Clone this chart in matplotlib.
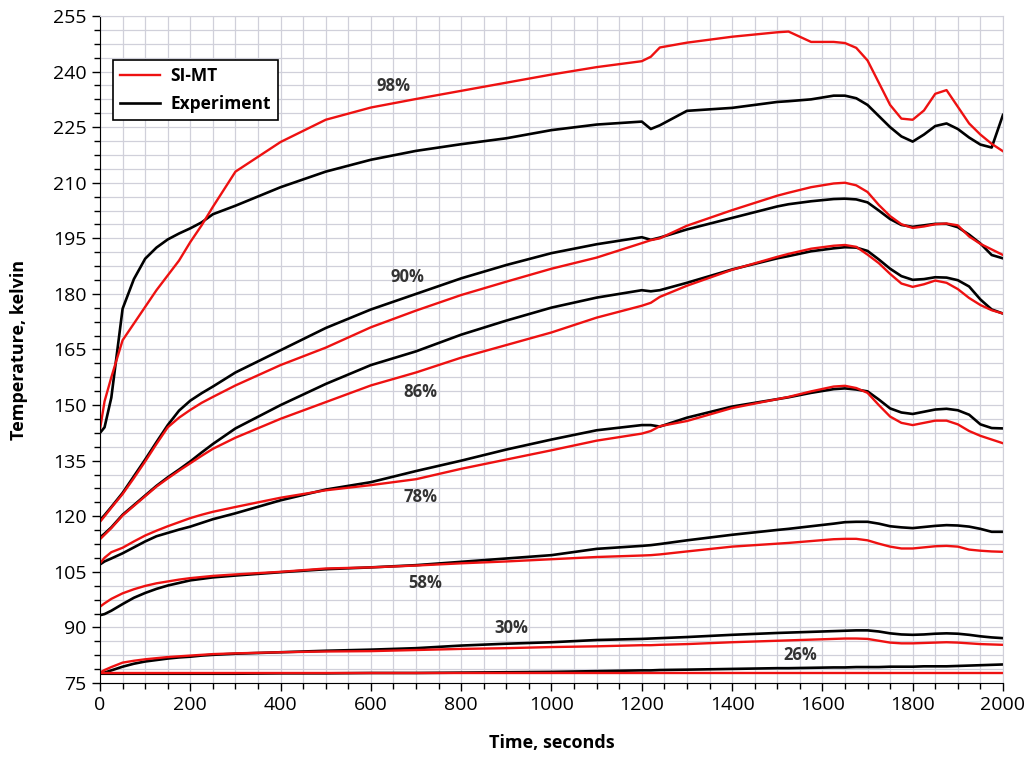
import matplotlib
matplotlib.use("Agg")
import matplotlib.pyplot as plt
from matplotlib.ticker import MultipleLocator

# time grid shared by all curves (seconds)
time_s = [0, 10, 25, 50, 75, 100, 125, 150, 175, 200, 225, 250, 300, 400, 500,
          600, 700, 800, 900, 1000, 1100, 1200, 1220, 1240, 1300, 1400, 1500,
          1525, 1575, 1625, 1650, 1675, 1700, 1725, 1750, 1775, 1800, 1825,
          1850, 1875, 1900, 1925, 1950, 1975, 2000]

# SI-MT model (red)
sim_98 = [143.5, 151, 157.5, 167.5, 172, 176.5, 181, 185, 189, 194, 198.5, 203.5, 213, 221, 227,
          230.3, 232.6, 234.8, 237, 239.2, 241.2, 242.8, 244, 246.5, 247.8, 249.4, 250.6,
          250.8, 248, 248, 247.7, 246.4, 243, 237, 231, 227.3, 227, 229.5,
          234, 235, 230.5, 226, 223, 220.5, 218.5]
sim_90 = [118.5, 120, 122.3, 126, 130.3, 134.8, 139.5, 144, 146.6, 148.7, 150.6, 152.2, 155.3, 160.8, 165.5,
          171, 175.5, 179.7, 183.3, 186.8, 189.8, 193.7, 194.5, 195, 198.4, 202.6, 206.5,
          207.3, 208.8, 209.8, 210, 209.3, 207.5, 204, 201, 198.8, 197.8, 198.2,
          198.8, 199, 198.5, 195.5, 193.5, 192, 190.5]
sim_86 = [113.8, 115, 116.8, 120.2, 122.8, 125.4, 128, 130.2, 132.3, 134.3, 136.3, 138.2, 141.2, 146.3, 150.8,
          155.3, 158.8, 162.8, 166.2, 169.6, 173.6, 176.8, 177.6, 179.2, 182.2, 186.5, 190,
          190.8, 192.2, 193, 193.2, 192.7, 190.6, 188.3, 185.4, 182.8, 181.9, 182.6,
          183.6, 183, 181.3, 178.9, 177, 175.6, 174.7]
sim_78 = [107.3, 108.8, 110.3, 111.5, 113.2, 114.8, 116.1, 117.3, 118.4, 119.5, 120.4, 121.2, 122.5, 125, 127,
          128.4, 130, 132.8, 135.3, 137.8, 140.4, 142.3, 143, 144.3, 145.7, 149.2, 151.6,
          152.2, 153.7, 155, 155.2, 154.6, 153.3, 150, 146.9, 145.2, 144.6, 145.2,
          145.8, 145.8, 144.8, 143, 141.7, 140.7, 139.7]
sim_58 = [95.6, 96.5, 97.7, 99.2, 100.3, 101.2, 101.9, 102.4, 102.9, 103.3, 103.6, 103.9, 104.3, 105, 105.9,
          106.2, 106.7, 107.3, 107.8, 108.4, 109, 109.4, 109.5, 109.7, 110.5, 111.8, 112.6,
          112.8, 113.3, 113.8, 113.9, 113.9, 113.5, 112.6, 111.8, 111.3, 111.3, 111.6,
          111.9, 112, 111.8, 111, 110.7, 110.5, 110.4]
sim_30 = [77.8, 78.5, 79.3, 80.5, 81, 81.4, 81.7, 82, 82.2, 82.4, 82.6, 82.8, 83, 83.3, 83.5,
          83.6, 83.9, 84.2, 84.4, 84.7, 84.9, 85.2, 85.2, 85.3, 85.5, 86, 86.4,
          86.5, 86.7, 86.9, 87, 87, 86.9, 86.4, 85.9, 85.7, 85.7, 85.8,
          85.9, 86, 85.9, 85.7, 85.5, 85.4, 85.3]
sim_26 = [77.6] * len(time_s)

# Experiment (black)
exp_98 = [142.5, 144, 152, 176, 184, 189.5, 192.5, 194.7, 196.3, 197.7, 199.3, 201.5, 203.8, 208.8, 213,
          216.2, 218.6, 220.4, 222, 224.2, 225.7, 226.5, 224.5, 225.5, 229.4, 230.2, 231.8,
          232, 232.5, 233.5, 233.5, 232.8, 231, 228, 225, 222.5, 221.1, 223,
          225.3, 226, 224.5, 222.2, 220.3, 219.5, 228.3]
exp_90 = [119, 120.3, 122.5, 126.3, 130.8, 135.3, 140, 144.6, 148.5, 151.2, 153.2, 155, 158.8, 164.8, 170.8,
          175.8, 180, 184.2, 187.8, 191, 193.4, 195.3, 194.6, 195.2, 197.4, 200.5, 203.6,
          204.2, 205, 205.6, 205.7, 205.5, 204.7, 202.5, 200.2, 198.6, 198.1, 198.5,
          198.9, 198.9, 198, 196, 193.6, 190.5, 189.6]
exp_86 = [114.3, 115.3, 117, 120.4, 123, 125.6, 128.2, 130.5, 132.6, 134.8, 137.2, 139.5, 143.7, 150, 155.7,
          160.8, 164.5, 169, 172.8, 176.3, 179, 181, 180.7, 181, 183, 186.6, 189.6,
          190.2, 191.5, 192.3, 192.6, 192.5, 191.6, 189.3, 186.8, 184.8, 183.8, 184,
          184.5, 184.4, 183.7, 182, 178.5, 175.8, 174.7]
exp_78 = [107, 107.8, 108.6, 110, 111.6, 113.2, 114.6, 115.5, 116.4, 117.2, 118.2, 119.2, 120.8, 124.3, 127.2,
          129.2, 132.2, 135, 138, 140.7, 143.2, 144.6, 144.6, 144.2, 146.6, 149.6, 151.6,
          152.1, 153.3, 154.3, 154.5, 154.2, 153.7, 151.5, 149.1, 148, 147.6, 148.2,
          148.8, 149, 148.6, 147.4, 144.8, 143.8, 143.7]
exp_58 = [93.3, 93.6, 94.5, 96.3, 98, 99.3, 100.4, 101.3, 102, 102.7, 103.1, 103.5, 104, 104.9, 105.7,
          106.2, 106.8, 107.7, 108.6, 109.5, 111.2, 112, 112.2, 112.5, 113.5, 115, 116.3,
          116.6, 117.3, 118, 118.4, 118.5, 118.5, 118, 117.3, 117, 116.8, 117.1,
          117.4, 117.6, 117.5, 117.2, 116.6, 115.8, 115.8]
exp_30 = [77.6, 77.8, 78.4, 79.4, 80.2, 80.8, 81.2, 81.6, 81.9, 82.1, 82.4, 82.6, 82.9, 83.3, 83.7,
          84, 84.4, 85.1, 85.6, 86, 86.6, 86.9, 87, 87.1, 87.4, 88, 88.5,
          88.6, 88.8, 89, 89.1, 89.2, 89.2, 88.9, 88.4, 88.1, 88, 88.1,
          88.3, 88.4, 88.3, 88, 87.6, 87.3, 87.1]
exp_26 = [77.5, 77.5, 77.5, 77.5, 77.5, 77.5, 77.5, 77.5, 77.5, 77.5, 77.5, 77.5, 77.5, 77.6, 77.6,
          77.7, 77.7, 77.8, 77.9, 78, 78.2, 78.4, 78.4, 78.5, 78.6, 78.8, 79,
          79, 79.1, 79.2, 79.2, 79.3, 79.3, 79.3, 79.4, 79.4, 79.4, 79.5,
          79.5, 79.5, 79.6, 79.7, 79.8, 79.9, 80]

# curve labels: text, x, y
labels = [("98%", 651, 236.1), ("90%", 682, 184.6), ("86%", 709, 153.5),
          ("78%", 709, 125.2), ("58%", 720, 102.0), ("30%", 912, 89.8),
          ("26%", 1550, 82.6)]

plt.rcParams['font.family'] = ['Open Sans', 'DejaVu Sans']

fig = plt.figure(figsize=(10.27, 7.61), dpi=100)
ax = fig.add_axes([0.0974, 0.1025, 0.8792, 0.8765])

exp_all = [exp_98, exp_90, exp_86, exp_78, exp_58, exp_30, exp_26]
sim_all = [sim_98, sim_90, sim_86, sim_78, sim_58, sim_30, sim_26]
for i, (e, s) in enumerate(zip(exp_all, sim_all)):
    ax.plot(time_s, e, color='black', lw=1.9, label='Experiment' if i == 0 else None)
    ax.plot(time_s, s, color='#ee1111', lw=1.7, label='SI-MT' if i == 0 else None)

for txt, x, y in labels:
    ax.text(x, y, txt, ha='center', va='center', fontsize=12, fontweight='bold', color='#333333')

ax.set_xlim(0, 2000)
ax.set_ylim(75, 255)
ax.xaxis.set_major_locator(MultipleLocator(200))
ax.xaxis.set_minor_locator(MultipleLocator(50))
ax.yaxis.set_major_locator(MultipleLocator(15))
ax.yaxis.set_minor_locator(MultipleLocator(3.75))
ax.grid(True, which='both', color='#d0d0da', lw=0.9)
ax.set_axisbelow(True)
ax.tick_params(which='both', direction='out', top=False, right=False, labelsize=14)
ax.tick_params(which='major', length=6, width=1)
ax.tick_params(which='minor', length=4, width=1)
for side in ['top', 'right']:
    ax.spines[side].set_color('#d0d0da')

ax.set_xlabel("Time, seconds", fontsize=13, fontweight='bold', labelpad=14)
ax.set_ylabel("Temperature, kelvin", fontsize=13, fontweight='bold', labelpad=18)

handles, lbls = ax.get_legend_handles_labels()
leg = ax.legend([handles[1], handles[0]], [lbls[1], lbls[0]], loc='upper left',
                bbox_to_anchor=(0.0144, 0.934), borderaxespad=0, fancybox=False,
                edgecolor='black', framealpha=1, prop={'weight': 'bold', 'size': 12.5},
                handlelength=2.3, handletextpad=0.6, labelspacing=0.6)
leg.get_frame().set_linewidth(1.2)

fig.savefig("out.png", dpi=100)
